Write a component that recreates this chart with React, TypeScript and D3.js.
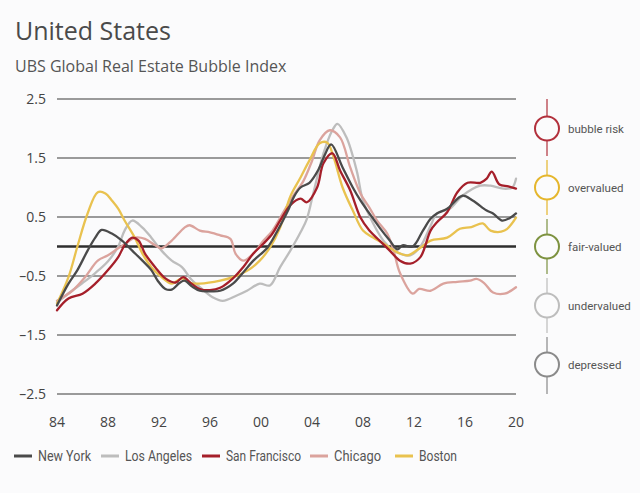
import React from "react";
import * as d3 from "d3";

const W = 640;
const H = 493;

const yTicks = [2.5, 1.5, 0.5, -0.5, -1.5, -2.5];
const xTicks = [1984, 1988, 1992, 1996, 2000, 2004, 2008, 2012, 2016, 2020];

const newYork: [number, number][] = [
  [1984.0, -1.0], [1984.9, -0.63], [1985.6, -0.4], [1986.4, -0.07], [1987.0, 0.15], [1987.5, 0.28],
  [1988.3, 0.22], [1989.1, 0.1], [1989.9, -0.07], [1990.7, -0.24], [1991.4, -0.4], [1991.9, -0.58],
  [1992.5, -0.72], [1993.0, -0.73], [1993.6, -0.62], [1994.0, -0.58], [1994.6, -0.68], [1995.2, -0.75],
  [1996.0, -0.76], [1996.8, -0.75], [1997.8, -0.63], [1998.6, -0.44], [1999.4, -0.24], [2000.5, -0.02],
  [2001.3, 0.27], [2002.1, 0.6], [2002.6, 0.85], [2003.1, 1.0], [2003.8, 1.08], [2004.5, 1.3],
  [2005.0, 1.55], [2005.5, 1.73], [2006.4, 1.34], [2007.2, 1.0], [2007.8, 0.78], [2008.5, 0.56],
  [2009.3, 0.32], [2010.1, 0.1], [2010.7, -0.05], [2011.1, 0.02], [2011.9, 0.0], [2012.7, 0.27],
  [2013.3, 0.47], [2013.8, 0.56], [2014.6, 0.64], [2015.8, 0.86], [2016.6, 0.78], [2017.7, 0.61],
  [2018.2, 0.56], [2018.9, 0.44], [2019.5, 0.48], [2020.0, 0.56],
];

const losAngeles: [number, number][] = [
  [1984.0, -0.95], [1985.0, -0.78], [1986.0, -0.62], [1987.0, -0.45], [1988.0, -0.25], [1988.8, 0.0],
  [1989.3, 0.27], [1989.9, 0.44], [1990.7, 0.32], [1991.4, 0.15], [1992.2, -0.07], [1993.0, -0.24],
  [1993.8, -0.35], [1994.5, -0.55], [1995.2, -0.69], [1996.2, -0.86], [1997.0, -0.92], [1998.1, -0.83],
  [1998.9, -0.75], [1999.9, -0.63], [2000.7, -0.66], [2001.5, -0.35], [2002.3, -0.07], [2003.1, 0.24],
  [2003.6, 0.47], [2004.1, 0.9], [2004.9, 1.58], [2005.6, 1.97], [2006.0, 2.08], [2006.7, 1.85],
  [2007.5, 1.29], [2008.0, 0.78], [2008.8, 0.39], [2009.6, 0.1], [2010.4, -0.07], [2010.9, -0.12],
  [2011.7, -0.15], [2012.5, 0.0], [2013.3, 0.35], [2013.8, 0.56], [2014.8, 0.64], [2015.8, 0.86],
  [2017.2, 1.03], [2018.0, 1.03], [2019.0, 0.98], [2019.7, 1.0], [2020.0, 1.15],
];

const sanFrancisco: [number, number][] = [
  [1984.0, -1.08], [1984.9, -0.88], [1986.0, -0.8], [1987.0, -0.63], [1988.0, -0.4], [1988.8, -0.18],
  [1989.3, 0.02], [1989.9, 0.15], [1990.4, 0.1], [1990.9, -0.12], [1991.7, -0.35], [1992.5, -0.54],
  [1993.3, -0.61], [1993.9, -0.52], [1994.5, -0.62], [1995.2, -0.72], [1996.0, -0.74], [1996.8, -0.7],
  [1997.8, -0.54], [1998.6, -0.35], [1999.4, -0.12], [2000.2, 0.05], [2000.9, 0.22], [2001.5, 0.44],
  [2002.3, 0.7], [2003.1, 0.81], [2003.6, 0.75], [2004.4, 1.0], [2004.9, 1.41], [2005.6, 1.58],
  [2006.2, 1.29], [2007.0, 0.95], [2007.8, 0.49], [2008.5, 0.27], [2009.3, 0.1], [2010.1, -0.07],
  [2010.9, -0.24], [2011.7, -0.29], [2012.5, -0.18], [2013.3, 0.27], [2013.8, 0.41], [2014.6, 0.58],
  [2015.4, 0.92], [2016.2, 1.08], [2017.2, 1.08], [2017.7, 1.15], [2018.1, 1.27], [2018.7, 1.05],
  [2019.4, 1.02], [2020.0, 0.98],
];

const chicago: [number, number][] = [
  [1984.0, -0.92], [1985.2, -0.75], [1986.2, -0.52], [1987.2, -0.24], [1988.0, -0.15], [1988.8, -0.03],
  [1989.5, 0.07], [1990.1, 0.15], [1990.9, 0.13], [1991.7, 0.02], [1992.2, -0.03], [1993.0, 0.1],
  [1994.0, 0.32], [1994.4, 0.36], [1995.2, 0.27], [1996.0, 0.24], [1996.8, 0.19], [1997.6, 0.13],
  [1998.0, -0.12], [1998.6, -0.24], [1999.4, -0.12], [2000.2, 0.1], [2000.9, 0.27], [2001.7, 0.56],
  [2002.5, 0.85], [2003.3, 1.1], [2004.0, 1.45], [2004.6, 1.8], [2005.4, 1.97], [2006.2, 1.85],
  [2007.0, 1.34], [2007.8, 0.9], [2008.5, 0.66], [2009.1, 0.44], [2009.9, 0.22], [2010.4, -0.07],
  [2010.9, -0.45], [2011.9, -0.8], [2012.4, -0.72], [2013.3, -0.75], [2014.3, -0.63], [2015.4, -0.6],
  [2016.4, -0.58], [2016.9, -0.55], [2017.5, -0.62], [2018.2, -0.78], [2019.1, -0.8], [2020.0, -0.69],
];

const boston: [number, number][] = [
  [1984.0, -0.97], [1984.9, -0.52], [1985.6, 0.0], [1986.4, 0.56], [1987.2, 0.92], [1987.8, 0.9],
  [1988.3, 0.78], [1988.8, 0.64], [1989.3, 0.44], [1990.1, 0.15], [1990.7, -0.12], [1991.4, -0.35],
  [1992.2, -0.52], [1993.0, -0.63], [1993.8, -0.54], [1994.5, -0.62], [1995.2, -0.63], [1996.8, -0.58],
  [1997.8, -0.52], [1999.0, -0.4], [1999.9, -0.24], [2000.7, -0.02], [2001.5, 0.32], [2002.3, 0.85],
  [2003.1, 1.17], [2003.8, 1.46], [2004.6, 1.75], [2005.2, 1.76], [2005.7, 1.51], [2006.4, 1.0],
  [2007.2, 0.61], [2008.0, 0.27], [2008.8, 0.15], [2009.6, 0.05], [2010.7, -0.1], [2011.5, -0.15],
  [2012.5, -0.02], [2013.3, 0.1], [2014.6, 0.15], [2015.6, 0.3], [2016.5, 0.33], [2017.4, 0.39],
  [2018.0, 0.27], [2019.1, 0.27], [2020.0, 0.49],
];

const seriesNames = ["New York", "Los Angeles", "San Francisco", "Chicago", "Boston"];
const seriesColors = ["#4a4a4a", "#bdbdbd", "#a51f2a", "#dba39d", "#e9c24f"];
const seriesData = [newYork, losAngeles, sanFrancisco, chicago, boston];
const drawOrder = [1, 3, 4, 2, 0];

const zoneLabels = ["bubble risk", "overvalued", "fair-valued", "undervalued", "depressed"];
const zoneCenters = [2, 1, 0, -1, -2];
const zoneColors = ["#b2303c", "#e5b62c", "#7d9240", "#bdbdbd", "#8a8a8a"];

const FONT = "'Open Sans', 'Noto Sans', sans-serif";
const LEGEND_FONT = "Roboto, 'Open Sans', sans-serif";

export default function App() {
  const x = d3.scaleLinear().domain([1984, 2020]).range([57, 516]);
  const y = d3.scaleLinear().domain([-2.5, 2.5]).range([394, 99]);
  const line = d3
    .line<[number, number]>()
    .x((d) => x(d[0]))
    .y((d) => y(d[1]))
    .curve(d3.curveCatmullRom.alpha(0.5));

  const fmtY = (v: number) => (v < 0 ? "\u2013" + Math.abs(v).toFixed(1) : v.toFixed(1));
  const fmtX = (v: number) => String(v % 100).padStart(2, "0");

  const legendX = [14, 101, 202, 310, 395];
  const legendTextW = [53, 67, 75, 47, 38];
  const legendY = 456;
  const zoneX = 547;

  return (
    <svg
      width={W}
      height={H}
      style={{ position: "absolute", left: 0, top: 0, background: "#fbfbfc" }}
      fontFamily={FONT}
    >
      <text x={15} y={40} fontSize={25} fill="#4a4a4a">United States</text>
      <text x={15} y={72} fontSize={16} fill="#555">UBS Global Real Estate Bubble Index</text>

      {yTicks.map((t) => (
        <g key={t}>
          <line x1={x(1984)} x2={x(2020)} y1={y(t)} y2={y(t)} stroke="#7a7a7a" strokeWidth={1.5} />
          <text x={46} y={y(t) + 5} fontSize={14} fill="#444" textAnchor="end">{fmtY(t)}</text>
        </g>
      ))}
      <line x1={x(1984)} x2={x(2020)} y1={y(0)} y2={y(0)} stroke="#2e2e2e" strokeWidth={2.6} />

      {xTicks.map((t) => (
        <text key={t} x={x(t)} y={427} fontSize={14} fill="#444" textAnchor="middle">{fmtX(t)}</text>
      ))}

      {drawOrder.map((i) => (
        <path
          key={seriesNames[i]}
          d={line(seriesData[i]) || ""}
          fill="none"
          stroke={seriesColors[i]}
          strokeWidth={2.3}
          strokeLinejoin="round"
          strokeLinecap="round"
        />
      ))}

      {zoneCenters.map((c, i) => (
        <line
          key={"seg" + i}
          x1={zoneX}
          x2={zoneX}
          y1={y(c + 0.5) + (i === 0 ? 0 : 2)}
          y2={y(c - 0.5) - (i === 4 ? 0 : 2)}
          stroke={zoneColors[i]}
          strokeWidth={1.5}
          opacity={0.8}
        />
      ))}
      {zoneCenters.map((c, i) => (
        <g key={"zone" + i}>
          <circle cx={zoneX} cy={y(c)} r={12} fill="#fbfbfc" stroke={zoneColors[i]} strokeWidth={2} />
          <text x={568} y={y(c) + 4} fontSize={11.5} fill="#555" fontFamily={LEGEND_FONT}>{zoneLabels[i]}</text>
        </g>
      ))}

      {seriesNames.map((n, i) => (
        <g key={"lg" + n}>
          <line x1={legendX[i]} x2={legendX[i] + 18} y1={legendY} y2={legendY} stroke={seriesColors[i]} strokeWidth={3} />
          <text
            x={legendX[i] + 24}
            y={legendY + 5}
            fontSize={15}
            fill="#555"
            fontFamily={LEGEND_FONT}
            textLength={legendTextW[i]}
            lengthAdjust="spacingAndGlyphs"
          >
            {n}
          </text>
        </g>
      ))}
    </svg>
  );
}
